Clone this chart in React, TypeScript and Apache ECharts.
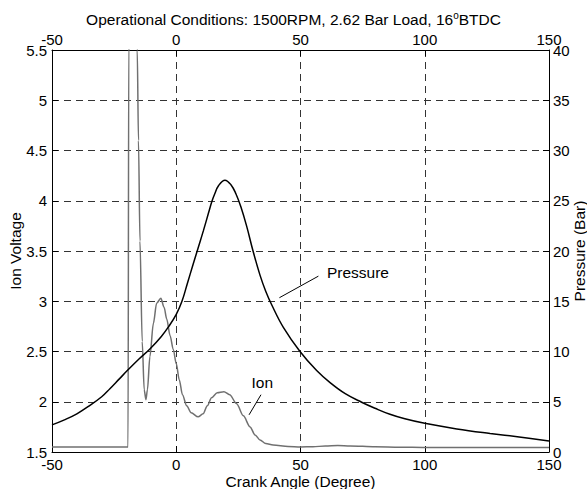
import React, { useEffect, useRef } from 'react';
import * as echarts from 'echarts';

const FONT = '"Liberation Sans", Arial, sans-serif';

// Crank angle axis ticks (degrees)
const angleTicks = [-50, 0, 50, 100, 150];

// Ion voltage trace (left axis, V)
const ionAngle = [
  -50, -30, -19.4, -19.1, -18.6, -17.5, -16.4, -15.7, -15.2, -14.6, -13.7, -12.9, -12.2,
  -11.6, -10.6, -9.2, -7.9, -6.2, -4.9, -3.8, -2.5, -1.2, 0, 1.2, 2.5, 4.2, 6, 8.8,
  10.8, 12.5, 14.2, 16.5, 19.2, 21.5, 24.3, 27, 29.7, 31.7, 33.7, 36, 39, 45, 50, 55,
  60, 65, 70, 80, 90, 100, 120, 150,
];
const ionVolt = [
  1.55, 1.55, 1.55, 5.6, 6.2, 6.4, 6.1, 5.5, 4.6, 3.6, 2.6, 2.12, 2.02,
  2.12, 2.45, 2.78, 2.98, 3.03, 2.94, 2.82, 2.66, 2.52, 2.38, 2.22, 2.07, 1.96, 1.89, 1.85,
  1.88, 1.96, 2.04, 2.09, 2.1, 2.07, 1.98, 1.86, 1.75, 1.67, 1.62, 1.585, 1.57, 1.555, 1.55, 1.552,
  1.56, 1.565, 1.56, 1.552, 1.548, 1.545, 1.545, 1.545,
];

// Cylinder pressure trace (right axis, Bar)
const presAngle = [
  -50, -45, -40, -35, -30, -26.7, -23, -19.3, -15, -10.6, -6, -3, 0, 2.3, 4.5,
  6.7, 8.8, 10.9, 13, 14.3, 15.5, 17, 19.6, 22, 24, 26, 28.3, 30.9, 33.7, 36, 38.5, 43.1,
  49.8, 56.5, 61.9, 68, 74.6, 80, 86, 92, 100, 112.9, 126.3, 138, 150,
];
const presBar = [
  2.7, 3.2, 3.8, 4.6, 5.5, 6.3, 7.25, 8.2, 9.25, 10.25, 11.5, 12.5, 13.7, 15.0, 16.8,
  18.6, 20.3, 22.0, 23.8, 24.9, 25.7, 26.5, 27.05, 26.6, 25.7, 24.4, 22.5, 20.0, 17.6, 16.0, 14.6, 12.4,
  10.0, 8.1, 6.9, 5.8, 4.95, 4.35, 3.75, 3.3, 2.85, 2.3, 1.85, 1.5, 1.1,
];

// Annotations: [angle, volt]
const pressureLabelPos = [73.1, 3.29];
const pressureArrow = [[57.2, 3.25], [41.5, 3.035]];
const ionLabelPos = [34.6, 2.19];
const ionArrow = [[34.1, 2.07], [29.3, 1.87]];

export default function App() {
  const ref = useRef<HTMLDivElement>(null);
  useEffect(() => {
    const chart = echarts.init(ref.current!, null, { renderer: 'svg' });
    const txt = { color: '#000', fontFamily: FONT, fontSize: 15 };
    const big = { color: '#000', fontFamily: FONT, fontSize: 15.5 };
    const axisLine = { show: true, onZero: false, lineStyle: { color: '#000', width: 1 } };
    const axisTick = { show: true, inside: true, length: 6, lineStyle: { color: '#000', width: 1 } };
    const dashed = { show: true, lineStyle: { type: [7, 5], color: '#333', width: 1 } };
    const option: any = {
      animation: false,
      backgroundColor: '#fff',
      title: {
        text: 'Operational Conditions: 1500RPM, 2.62 Bar Load, 16{sup|o}BTDC',
        left: 'center',
        top: 5,
        textStyle: {
          ...big,
          fontWeight: 'normal',
          rich: { sup: { fontFamily: FONT, fontSize: 10, color: '#000', verticalAlign: 'top', padding: [0, 0, 8, 0] } },
        },
      },
      grid: { left: 52, right: 38, top: 50, bottom: 37, containLabel: false, outerBoundsMode: 'none' },
      xAxis: [
        {
          type: 'value', min: angleTicks[0], max: angleTicks[angleTicks.length - 1], interval: 50,
          position: 'bottom', axisLine, axisTick,
          axisLabel: { ...txt, margin: 5 },
          splitLine: dashed,
          name: 'Crank Angle (Degree)', nameLocation: 'middle', nameGap: 21, nameMoveOverlap: false,
          nameTextStyle: big,
        },
        {
          type: 'value', min: angleTicks[0], max: angleTicks[angleTicks.length - 1], interval: 50,
          position: 'top', axisLine, axisTick,
          axisLabel: { ...txt, margin: 3 },
          splitLine: { show: false },
        },
      ],
      yAxis: [
        {
          type: 'value', min: 1.5, max: 5.5, interval: 0.5, position: 'left', axisLine, axisTick,
          axisLabel: { ...txt, margin: 5 },
          splitLine: dashed,
          name: 'Ion Voltage', nameLocation: 'middle', nameGap: 29, nameRotate: 90, nameMoveOverlap: false,
          nameTextStyle: big,
        },
        {
          type: 'value', min: 0, max: 40, interval: 5, position: 'right', axisLine, axisTick,
          axisLabel: { ...txt, margin: 4 },
          splitLine: { show: false },
          name: 'Pressure (Bar)', nameLocation: 'middle', nameGap: 22, nameRotate: 90, nameMoveOverlap: false,
          nameTextStyle: big,
        },
      ],
      series: [
        {
          name: 'Ion', type: 'line', xAxisIndex: 0, yAxisIndex: 0,
          data: ionAngle.map((a, i) => [a, ionVolt[i]]),
          showSymbol: false, smooth: 0.3, smoothMonotone: 'x',
          lineStyle: { color: '#707070', width: 1.5 },
          itemStyle: { color: '#707070' },
          markLine: {
            silent: true, symbol: ['none', 'arrow'], symbolSize: [0, 10],
            label: { show: false },
            lineStyle: { color: '#000', width: 1, type: 'solid' },
            itemStyle: { color: '#000' },
            data: [
              [{ coord: pressureArrow[0] }, { coord: pressureArrow[1] }],
              [{ coord: ionArrow[0] }, { coord: ionArrow[1] }],
            ],
          },
          markPoint: {
            silent: true, symbol: 'circle', symbolSize: 0,
            label: { show: true, position: 'inside', ...big },
            data: [
              { coord: pressureLabelPos, value: 'Pressure', label: { formatter: 'Pressure' } },
              { coord: ionLabelPos, value: 'Ion', label: { formatter: 'Ion' } },
            ],
          },
        },
        {
          name: 'Pressure', type: 'line', xAxisIndex: 0, yAxisIndex: 1,
          data: presAngle.map((a, i) => [a, presBar[i]]),
          showSymbol: false, smooth: 0.4,
          lineStyle: { color: '#000', width: 1.5 },
          itemStyle: { color: '#000' },
        },
      ],
    };
    chart.setOption(option);
    return () => chart.dispose();
  }, []);
  return <div ref={ref} style={{ position: 'absolute', left: 0, top: 0, width: 587, height: 489 }} />;
}
